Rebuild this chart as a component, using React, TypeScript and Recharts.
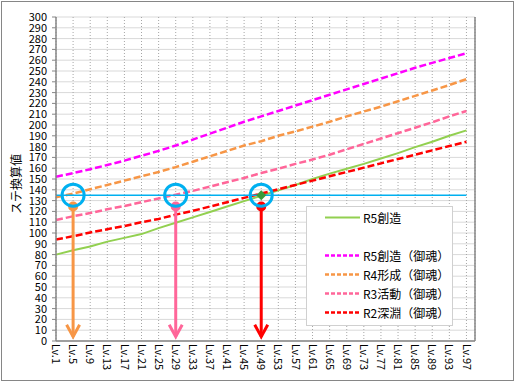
import {
  LineChart,
  Line,
  XAxis,
  YAxis,
  CartesianGrid,
  ReferenceLine,
  ReferenceDot,
  Legend,
} from "recharts";

const levels = [1, 5, 9, 13, 17, 21, 25, 29, 33, 37, 41, 45, 49, 53, 57, 61, 65, 69, 73, 77, 81, 85, 89, 93, 97];
const r5 = [80, 84, 87.5, 92, 95.5, 99, 104.5, 109.5, 114.5, 119.5, 124.5, 129.5, 134.5, 139.5, 144.5, 150, 155, 159.5, 164, 169, 174, 179.5, 184.5, 190, 195];
const r5m = [152, 155.5, 159, 163, 167, 171.5, 176, 181, 186.5, 192, 197.5, 203, 208, 213, 218, 223, 228, 233, 238, 243, 248, 253, 257.5, 262, 266.5];
const r4m = [133, 136.5, 140.5, 144.5, 148.5, 152.5, 156.5, 161, 166, 171, 176, 181, 185, 190, 194, 198.5, 203, 208, 212.5, 217, 222, 227, 232, 237, 242.5];
const r3m = [112, 115.5, 118.5, 122, 125, 128.5, 132, 135.5, 139, 143, 147, 151, 155.5, 159.5, 164, 168, 172.5, 177.5, 182.5, 187.5, 192.5, 197.5, 202.5, 208, 213];
const r2m = [94, 97, 100.5, 103.5, 106.5, 110, 113, 117, 120.5, 124.5, 128.5, 132.5, 136.5, 140.5, 144.5, 148.5, 152.5, 156.5, 160.5, 164.5, 168.5, 172.5, 176.5, 180.5, 184.5];
const yTicks = [0, 10, 20, 30, 40, 50, 60, 70, 80, 90, 100, 110, 120, 130, 140, 150, 160, 170, 180, 190, 200, 210, 220, 230, 240, 250, 260, 270, 280, 290, 300];

// target line and the three levels where each series reaches it
const target = 135;
const marks = [
  { lv: 5, color: "#F79646" },
  { lv: 29, color: "#FF6699" },
  { lv: 49, color: "#FF0000" },
];
const markTop = 124.5;
const markBottom = 4;

const data = levels.map((lv, i) => ({
  lv,
  r5: r5[i],
  r5m: r5m[i],
  r4m: r4m[i],
  r3m: r3m[i],
  r2m: r2m[i],
}));

const series = [
  { key: "r5m", name: "R5創造（御魂）", color: "#FF00FF" },
  { key: "r4m", name: "R4形成（御魂）", color: "#F79646" },
  { key: "r3m", name: "R3活動（御魂）", color: "#FF6699" },
  { key: "r2m", name: "R2深淵（御魂）", color: "#FF0000" },
];

const XTick = ({ x, y, payload }: any) => (
  <g transform={`translate(${x},${y})`}>
    <text transform="rotate(90)" textAnchor="start" dy="0.35em" fontSize={11} fill="#000">
      {"Lv." + payload.value}
    </text>
  </g>
);

const Arrow = (p: any) => (
  <g>
    <line x1={p.x1} y1={p.y1} x2={p.x2} y2={p.y2} stroke={p.stroke} strokeWidth={3} />
    <polyline
      points={`${p.x2 - 6.5},${p.y2 - 12} ${p.x2},${p.y2} ${p.x2 + 6.5},${p.y2 - 12}`}
      fill="none"
      stroke={p.stroke}
      strokeWidth={3}
    />
  </g>
);

const Diamond = ({ cx, cy }: any) => (
  <polygon
    points={`${cx},${cy - 5} ${cx + 5},${cy} ${cx},${cy + 5} ${cx - 5},${cy}`}
    fill="#3A9A3A"
  />
);

const LegendBox = () => {
  const row = (name: string, color: string, dash: string | undefined, top: number) => (
    <div key={name} style={{ position: "absolute", left: 0, top, height: 19, width: "100%" }}>
      <svg width={60} height={19} style={{ position: "absolute", left: 0, top: 0 }}>
        <line x1={18} x2={53} y1={9.5} y2={9.5} stroke={color} strokeWidth={dash ? 2.5 : 2} strokeDasharray={dash} />
      </svg>
      <span style={{ position: "absolute", left: 56, top: 1, fontSize: 12, lineHeight: "17px", color: "#000", whiteSpace: "nowrap" }}>
        {name}
      </span>
    </div>
  );
  return (
    <div style={{ position: "relative", width: 147, height: 120, boxSizing: "border-box", border: "1px solid #D0D0D0", background: "#fff" }}>
      {row("R5創造", "#92D050", undefined, 1)}
      {series.map((s, i) => row(s.name, s.color, "4 2", 39 + i * 19.1))}
    </div>
  );
};

export default function App() {
  return (
    <div
      style={{
        position: "absolute",
        left: 0,
        top: 0,
        width: 515,
        height: 382,
        background: "#fff",
        fontFamily: "'Noto Sans CJK JP', 'Noto Sans', sans-serif",
      }}
    >
      <LineChart width={515} height={382} data={data} margin={{ top: 17, right: 0, bottom: 0, left: 0 }}>
        <CartesianGrid horizontal vertical={false} stroke="#D9D9D9" yAxisId="l" />
        <CartesianGrid horizontal={false} vertical stroke="#A6A6A6" strokeDasharray="1 2" yAxisId="l" />
        <XAxis
          dataKey="lv"
          type="number"
          domain={[1, 99]}
          ticks={levels}
          interval={0}
          height={41}
          tickSize={0}
          tickMargin={3}
          tick={<XTick />}
          axisLine={{ stroke: "#868686", strokeWidth: 1.5 }}
        />
        <YAxis
          yAxisId="l"
          domain={[0, 300]}
          ticks={yTicks}
          interval={0}
          width={56}
          tickSize={4}
          tickMargin={5}
          tick={{ fill: "#000", fontSize: 11 }}
          axisLine={{ stroke: "#868686", strokeWidth: 1.5 }}
          tickLine={{ stroke: "#868686" }}
          label={{
            content: ({ viewBox }: any) => {
              const cx = viewBox.x + 15;
              const cy = viewBox.y + viewBox.height / 2 + 5;
              return (
                <text x={cx} y={cy} transform={`rotate(-90 ${cx} ${cy})`} textAnchor="middle" dominantBaseline="central" fontSize={12} fill="#000">
                  ステ換算値
                </text>
              );
            },
          }}
        />
        <YAxis
          yAxisId="r"
          orientation="right"
          domain={[0, 300]}
          ticks={yTicks}
          interval={0}
          width={40}
          tickSize={4}
          tickMargin={8}
          tick={{ fill: "#000", fontSize: 11, textAnchor: "start" }}
          axisLine={{ stroke: "#868686", strokeWidth: 1.5 }}
          tickLine={{ stroke: "#868686" }}
        />
        <Line yAxisId="l" dataKey="r5" name="R5創造" stroke="#92D050" strokeWidth={2} dot={false} isAnimationActive={false} />
        {series.map((s) => (
          <Line
            key={s.key}
            yAxisId="l"
            dataKey={s.key}
            name={s.name}
            stroke={s.color}
            strokeWidth={2.5}
            strokeDasharray="7 3"
            dot={false}
            isAnimationActive={false}
          />
        ))}
        <ReferenceLine
          yAxisId="l"
          segment={[{ x: 1, y: target }, { x: 97, y: target }]}
          stroke="#00B0F0"
          strokeWidth={1.5}
        />
        <ReferenceDot yAxisId="l" x={49} y={target} shape={<Diamond />} />
        {marks.map((m) => (
          <ReferenceLine
            key={"a" + m.lv}
            yAxisId="l"
            segment={[{ x: m.lv, y: markTop }, { x: m.lv, y: markBottom }]}
            stroke={m.color}
            shape={<Arrow />}
          />
        ))}
        {marks.map((m) => (
          <ReferenceDot key={"d" + m.lv} yAxisId="l" x={m.lv} y={markTop} r={5} fill={m.color} stroke="none" />
        ))}
        {marks.map((m) => (
          <ReferenceDot key={"c" + m.lv} yAxisId="l" x={m.lv} y={target} r={11} fill="none" stroke="#00B0F0" strokeWidth={3} />
        ))}
        <Legend
          layout="horizontal"
          verticalAlign="middle"
          align="center"
          content={() => <LegendBox />}
          wrapperStyle={{ position: "absolute", left: 306, top: 206, width: 147, height: 120 }}
        />
      </LineChart>
      <div
        style={{
          position: "absolute",
          left: 1,
          top: 1,
          width: 513,
          height: 380,
          boxSizing: "border-box",
          border: "1px solid #868686",
          pointerEvents: "none",
        }}
      />
    </div>
  );
}
